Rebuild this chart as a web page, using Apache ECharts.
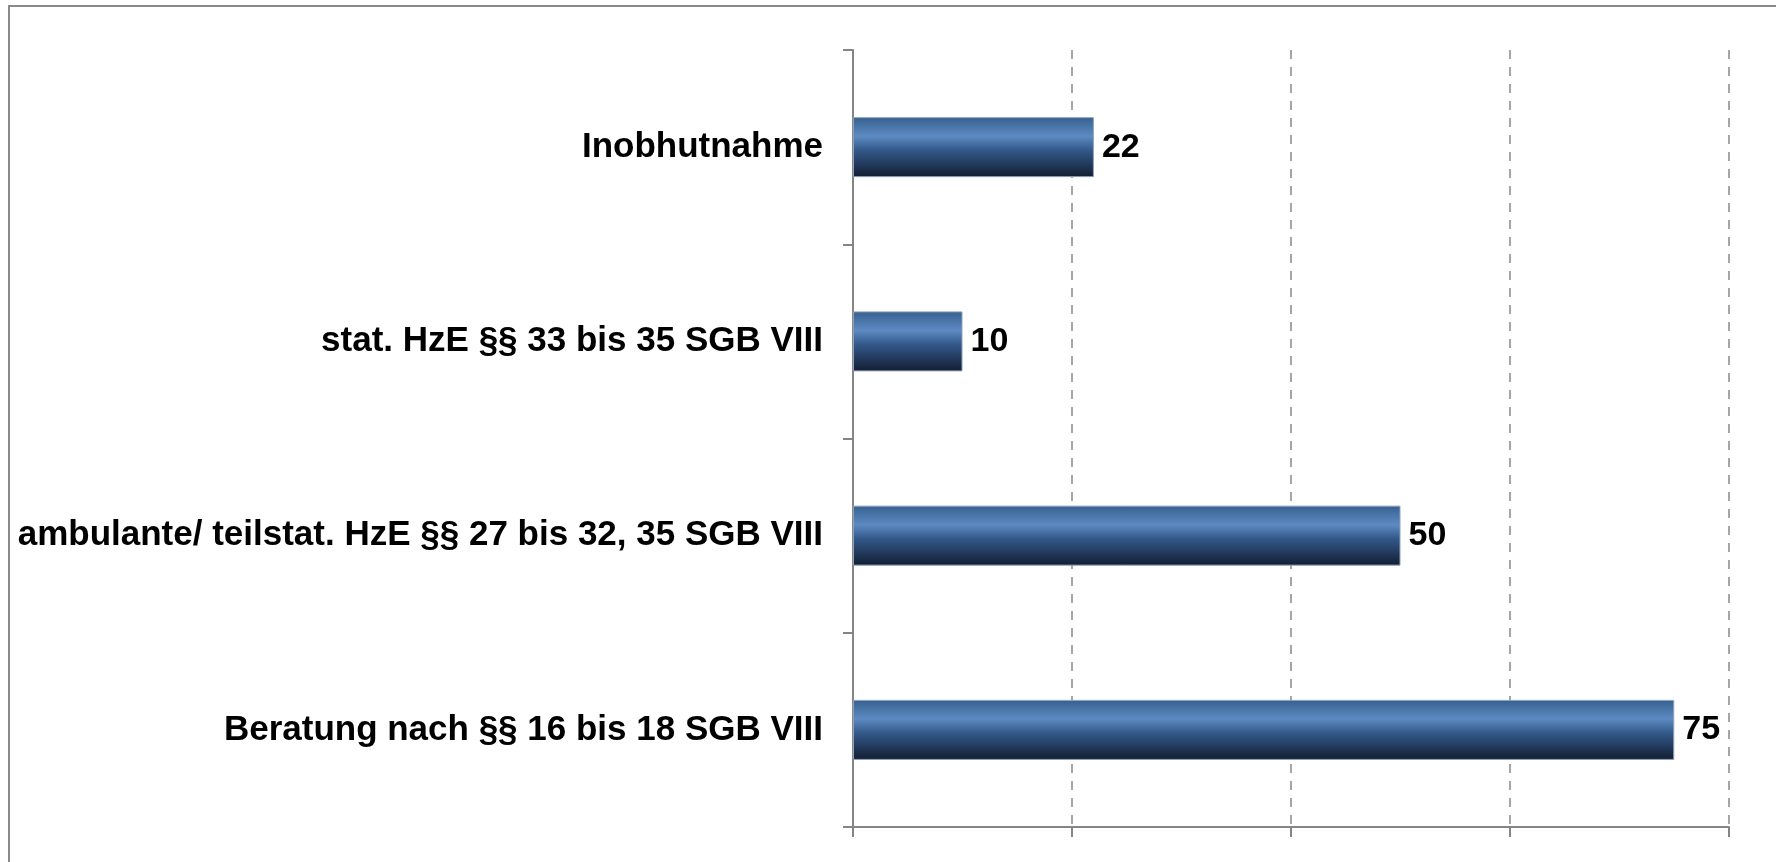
<!DOCTYPE html>
<html>
<head>
<meta charset="utf-8">
<script src="https://cdn.jsdelivr.net/npm/echarts@6/dist/echarts.min.js"></script>
<style>
  html, body { margin: 0; padding: 0; background: #fff; overflow: hidden; }
  #main { width: 1776px; height: 862px; }
</style>
</head>
<body>
<div id="main"></div>
<script>
// Kategorien (oben nach unten)
var categories = [
    'Inobhutnahme',
    'stat. HzE §§ 33 bis 35 SGB VIII',
    'ambulante/ teilstat. HzE §§ 27 bis 32, 35 SGB VIII',
    'Beratung nach §§ 16 bis 18 SGB VIII'
];
var values = [22, 10, 50, 75];
var xMin = 0, xMax = 80, xStep = 20;

var barGradient = new echarts.graphic.LinearGradient(0, 0, 0, 1, [
    { offset: 0, color: '#36608f' },
    { offset: 0.32, color: '#5d8ac2' },
    { offset: 0.55, color: '#33598a' },
    { offset: 1, color: '#121d31' }
]);

var myChart = echarts.init(document.getElementById('main'));
myChart.setOption({
    animation: false,
    textStyle: { fontFamily: 'Liberation Sans, Arial, sans-serif' },
    graphic: [{
        type: 'rect',
        shape: { x: 9, y: 6, width: 1900, height: 1000 },
        style: { fill: 'none', stroke: '#8a8a8a', lineWidth: 2 },
        silent: true
    }],
    grid: { left: 853, right: 47, top: 50, bottom: 35 },
    xAxis: {
        type: 'value',
        min: xMin,
        max: xMax,
        interval: xStep,
        axisLine: { show: true, lineStyle: { color: '#858585', width: 2 } },
        axisTick: { show: true, length: 10, lineStyle: { color: '#858585', width: 2 } },
        axisLabel: { show: false },
        splitLine: { show: true, lineStyle: { color: '#a6a6a6', type: [9, 8], width: 2 } }
    },
    yAxis: {
        type: 'category',
        inverse: true,
        data: categories,
        axisLine: { show: true, lineStyle: { color: '#858585', width: 2 } },
        axisTick: { show: true, length: 10, lineStyle: { color: '#858585', width: 2 } },
        axisLabel: {
            margin: 30,
            color: '#000',
            fontSize: 35,
            fontWeight: 'bold'
        }
    },
    series: [{
        type: 'bar',
        data: values,
        barWidth: 60,
        itemStyle: { color: barGradient, borderColor: '#8fa3bd', borderWidth: 1 },
        label: {
            show: true,
            position: 'right',
            distance: 8,
            color: '#000',
            fontSize: 34,
            fontWeight: 'bold'
        }
    }]
});
window.onresize = function () {
    myChart.resize();
};
</script>
</body>
</html>
